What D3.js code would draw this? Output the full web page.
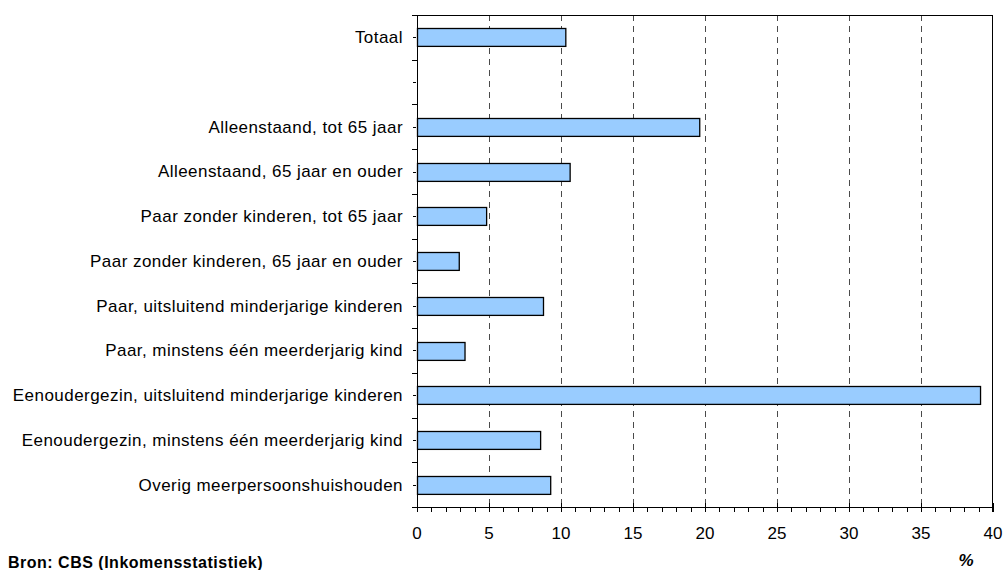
<!DOCTYPE html>
<html>
<head>
<meta charset="utf-8">
<script src="https://cdn.jsdelivr.net/npm/d3@7"></script>
<style>
  body { margin: 0; background: #fff; }
  text { font-family: "Liberation Sans", Arial, sans-serif; }
</style>
</head>
<body>
<svg id="chart" width="1003" height="570"></svg>
<script>
// categories top to bottom; empty strings are spacer slots
const categories = [
  "Totaal",
  "",
  "Alleenstaand, tot 65 jaar",
  "Alleenstaand, 65 jaar en ouder",
  "Paar zonder kinderen, tot 65 jaar",
  "Paar zonder kinderen, 65 jaar en ouder",
  "Paar, uitsluitend minderjarige kinderen",
  "Paar, minstens één meerderjarig kind",
  "Eenoudergezin, uitsluitend minderjarige kinderen",
  "Eenoudergezin, minstens één meerderjarig kind",
  "Overig meerpersoonshuishouden"
];
const values = [10.3, null, 19.6, 10.6, 4.8, 2.9, 8.75, 3.3, 39.1, 8.55, 9.25];
const xTicks = [0, 5, 10, 15, 20, 25, 30, 35, 40];

const svg = d3.select("#chart");
const margin = { left: 417, right: 10, top: 15, bottom: 63 };
const width = 1003 - margin.left - margin.right;
const height = 570 - margin.top - margin.bottom;

const g = svg.append("g").attr("transform", `translate(${margin.left},${margin.top})`);

const x = d3.scaleLinear().domain([0, 40]).range([0, width]);
const y = d3.scaleBand()
  .domain(d3.range(categories.length))
  .range([0, height])
  .paddingInner(0.6)
  .paddingOuter(0.3);

const step = y.step();

// dashed gridlines
g.selectAll(".grid")
  .data(xTicks.filter((d) => d > 0 && d < 40))
  .enter()
  .append("line")
  .attr("x1", (d) => Math.round(x(d)) + 0.5)
  .attr("x2", (d) => Math.round(x(d)) + 0.5)
  .attr("y1", 0)
  .attr("y2", height)
  .attr("stroke", "#4a4a4a")
  .attr("stroke-dasharray", "6,5");

// frame: top and right border
g.append("line")
  .attr("x1", -5).attr("x2", width)
  .attr("y1", 0.5).attr("y2", 0.5)
  .attr("stroke", "#000");
g.append("line")
  .attr("x1", width - 0.5).attr("x2", width - 0.5)
  .attr("y1", 0).attr("y2", height + 5)
  .attr("stroke", "#000");

// bars
g.selectAll(".bar")
  .data(values.map((v, i) => ({ v, i })).filter((d) => d.v !== null))
  .enter()
  .append("rect")
  .attr("x", 0.5)
  .attr("y", (d) => Math.round(y(d.i)) + 0.5)
  .attr("width", (d) => x(d.v))
  .attr("height", y.bandwidth())
  .attr("fill", "#99ccff")
  .attr("stroke", "#000")
  .attr("stroke-width", 1.3);

// left axis line and ticks
g.append("line")
  .attr("x1", 0.5).attr("x2", 0.5)
  .attr("y1", 0).attr("y2", height)
  .attr("stroke", "#000");

g.selectAll(".btick")
  .data(d3.range(categories.length + 1))
  .enter()
  .append("line")
  .attr("x1", -5).attr("x2", 0)
  .attr("y1", (d) => Math.round(d * step) + 0.5)
  .attr("y2", (d) => Math.round(d * step) + 0.5)
  .attr("stroke", "#000");

g.selectAll(".ctick")
  .data(d3.range(categories.length))
  .enter()
  .append("line")
  .attr("x1", -4).attr("x2", -1)
  .attr("y1", (d) => Math.round((d + 0.5) * step) + 0.5)
  .attr("y2", (d) => Math.round((d + 0.5) * step) + 0.5)
  .attr("stroke", "#000");

g.selectAll(".clabel")
  .data(categories)
  .enter()
  .append("text")
  .attr("x", -14)
  .attr("y", (d, i) => (i + 0.5) * step)
  .attr("dy", "0.35em")
  .attr("text-anchor", "end")
  .attr("font-size", "17px")
  .attr("letter-spacing", "0.45px")
  .attr("fill", "#000")
  .text((d) => d);

// bottom axis
const xAxis = g.append("g").attr("transform", `translate(0,${height})`);
xAxis.append("line")
  .attr("x1", -5).attr("x2", width)
  .attr("y1", 0.5).attr("y2", 0.5)
  .attr("stroke", "#000");

xAxis.selectAll(".minor")
  .data(d3.range(0, 41))
  .enter()
  .append("line")
  .attr("x1", (d) => Math.round(x(d)) + 0.5)
  .attr("x2", (d) => Math.round(x(d)) + 0.5)
  .attr("y1", (d) => (d % 5 === 0 ? -4 : 0))
  .attr("y2", 5)
  .attr("stroke", "#000");

xAxis.selectAll(".xlabel")
  .data(xTicks)
  .enter()
  .append("text")
  .attr("x", (d) => x(d))
  .attr("y", 32)
  .attr("text-anchor", "middle")
  .attr("font-size", "17px")
  .attr("fill", "#000")
  .text((d) => d);

svg.append("text")
  .attr("x", 966)
  .attr("y", 566)
  .attr("text-anchor", "middle")
  .attr("font-size", "17px")
  .attr("font-weight", "bold")
  .attr("font-style", "italic")
  .text("%");

svg.append("text")
  .attr("x", 8)
  .attr("y", 568)
  .attr("font-size", "16px")
  .attr("font-weight", "bold")
  .attr("letter-spacing", "0.5px")
  .text("Bron: CBS (Inkomensstatistiek)");
</script>
</body>
</html>
